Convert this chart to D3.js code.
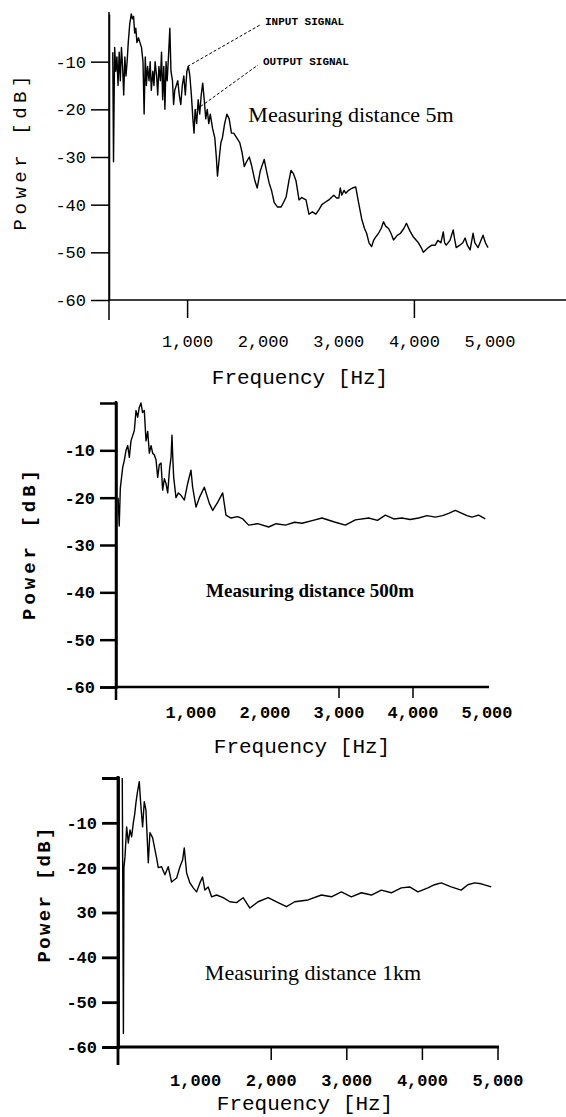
<!DOCTYPE html>
<html>
<head>
<meta charset="utf-8">
<script src="https://cdn.jsdelivr.net/npm/d3@7"></script>
<style>
body { margin: 0; background: #fff; }
svg { display: block; }
</style>
</head>
<body>
<div id="chart"></div>
<script>
// tick values / labels
var dbTicks = [-10, -20, -30, -40, -50, -60];
var dbLabels5m = ["-10", "-20", "-30", "-40", "-50", "-60"];
var dbLabels500m = ["-10", "-20", "-30", "-40", "-50", "-60"];
var dbLabels1km = ["-10", "-20", "30", "-40", "-50", "-60"];
var freqTicks = [1000, 2000, 3000, 4000, 5000];

// spectrum, measuring distance 5m
var freq5m = [10,20,35,50,65,80,95,110,125,140,155,170,185,200,215,235,255,270,285,300,
    315,330,350,370,390,410,425,440,455,470,490,505,520,540,555,570,590,605,620,640,
    655,670,685,700,715,730,750,765,780,800,815,830,850,870,890,910,930,950,970,990,
    1010,1030,1050,1070,1085,1100,1120,1140,1160,1180,1200,1220,1240,1260,1280,1300,1330,1360,1380,1395,
    1420,1440,1460,1490,1520,1550,1580,1610,1650,1690,1720,1750,1780,1816,1850,1890,1921,1960,2013,2045,
    2079,2110,2145,2190,2237,2270,2303,2340,2368,2400,2434,2474,2510,2566,2605,2650,2697,2740,2776,2820,
    2868,2908,2934,2970,3000,3020,3039,3070,3092,3130,3180,3224,3263,3303,3340,3368,3400,3434,3460,3487,
    3526,3560,3592,3620,3658,3690,3724,3770,3816,3860,3895,3940,3987,4053,4090,4118,4150,4184,4230,4276,
    4310,4350,4382,4400,4421,4470,4513,4530,4553,4600,4640,4671,4700,4737,4776,4800,4842,4880,4908,4940,4974];
var power5m = [-8,-31,-7,-12,-9,-15,-8,-14,-7,-11,-17,-9,-13,-10,-6,-2,0,-1,-0.5,-4,
    -3,-6,-5,-6,-7,-10,-21,-9,-15,-11,-14,-10,-16,-12,-15,-10,-13,-17,-11,-14,
    -8,-18,-11,-20,-10,-14,-8,-3,-12,-14,-19,-16,-15,-14,-17,-19,-15,-13,-17,-12,
    -11,-13,-17,-22,-25,-20,-23,-18,-21,-17,-14.5,-18,-22,-20,-23,-21,-24,-26,-30,-34,
    -30,-27,-26,-23,-21,-22,-25,-25,-26,-27,-29,-32,-31,-30,-32,-35,-36.5,-33,-30.5,-33,
    -35.5,-37,-39.5,-40.5,-40.5,-39.5,-38.4,-35,-32.8,-33.5,-35,-39,-38.5,-39,-42,-41.5,-42,-41,-40,-39.5,
    -39,-38.4,-38,-38.6,-38.6,-36.5,-38,-37,-37.6,-37,-36.5,-36.3,-39.7,-43,-45,-46,-48,-48.8,-47.5,-46.8,
    -46,-45,-43.6,-44.5,-45,-46,-47.4,-46.5,-46,-45,-43.9,-45.5,-46.8,-48,-49,-50,-49.5,-49,-48.5,-48.5,
    -47.5,-48,-45.7,-48,-48.5,-47.5,-45.3,-47,-49,-48.5,-48,-47,-48.5,-49.5,-46,-48,-49,-47.5,-46.4,-48,-49];

// spectrum, measuring distance 500m
var freq500m = [15,30,45,77,100,122,145,167,189,210,234,257,280,300,324,345,369,392,415,437,
    460,482,505,527,550,572,595,617,640,662,685,710,730,743,755,766,797,830,865,910,
    955,1000,1022,1068,1113,1180,1248,1293,1360,1428,1473,1540,1630,1700,1779,1900,2050,2150,2275,2400,
    2500,2650,2770,2950,3086,3221,3401,3520,3626,3740,3851,3960,4077,4190,4302,4400,4482,4572,4662,4730,
    4797,4887,4977];
var power500m = [-20,-26,-18,-13.6,-12,-10,-9,-11.5,-8,-7,-5.8,-1.6,-3,-1,0,-2,-1.6,-8,-6,-10.6,
    -9,-10.6,-11,-12,-15.7,-13,-12.7,-18.4,-16,-17,-19,-14,-11.5,-6.8,-12,-15.7,-20,-19,-19.5,-20.5,
    -17,-14.2,-17.8,-22,-20,-17.8,-21.2,-22.7,-21,-19,-23.7,-24.3,-24,-24.5,-25.8,-25.5,-26.2,-25.5,-25.8,-25.2,
    -25.4,-24.8,-24.3,-25.2,-25.8,-24.7,-24.3,-24.8,-23.7,-24.5,-24.3,-24.6,-24.3,-23.8,-24.1,-23.8,-23.3,-22.7,-23.3,-23.8,
    -24.1,-23.7,-24.5];

// spectrum, measuring distance 1km
var freq1km = [30,38,45,52,66,88,110,132,154,176,195,211,229,255,273,299,321,343,361,374,
    396,431,462,484,506,550,594,638,682,749,793,828,850,881,925,969,1013,1057,1092,1123,
    1167,1211,1277,1365,1453,1541,1629,1718,1827,1960,2092,2202,2312,2488,2664,2796,2928,3060,3193,3325,
    3457,3589,3721,3831,3941,4073,4161,4249,4381,4513,4601,4690,4778,4910];
var power1km = [0,-28,-57,-20,-17.6,-10.9,-14.5,-11.6,-13.1,-10,-8,-5.5,-3.3,-0.8,-5.5,-10.9,-5.3,-7.1,-13.8,-18.9,
    -12.2,-13.3,-16,-17.8,-20,-19.8,-21.6,-19.8,-23.2,-22.3,-19.8,-18.3,-15.6,-21.2,-23.4,-24.5,-25.4,-23.4,-22.1,-25,
    -24.3,-26.5,-26.1,-26.7,-27.6,-27.8,-26.7,-29,-27.6,-26.7,-27.8,-28.7,-27.6,-27.2,-26.1,-26.5,-25.4,-26.5,-25.6,-26.1,
    -25,-25.6,-24.5,-24.3,-25.4,-24.5,-23.8,-23.4,-24.3,-25,-23.8,-23.4,-23.6,-24.3];

var svg = d3.select("#chart")
    .append("svg")
    .attr("width", 566)
    .attr("height", 1117);

PowerChart = function(_svg, _freq, _power, _opts){
    this.svg = _svg;
    this.data = _freq.map(function(f, i) { return { f: f, p: _power[i] }; });
    this.opts = _opts;
    this.initVis();
};

PowerChart.prototype.initVis = function(){
    var vis = this, o = vis.opts;

    vis.x = d3.scaleLinear().domain([0, 5000]).range([o.x0, o.x5000]);
    vis.y = d3.scaleLinear().domain([-60, 0]).range([o.yBot, o.yTop]);

    // y axis
    vis.yAxis = vis.svg.append("g")
        .attr("transform", "translate(" + o.axisX + ",0)")
        .call(d3.axisLeft(vis.y)
            .tickValues(dbTicks)
            .tickFormat(function(d, i) { return o.yLabels[i]; })
            .tickSize(o.tickLen)
            .tickSizeOuter(o.outer)
            .tickPadding(5));
    vis.yAxis.selectAll("path, line")
        .attr("stroke", "#000")
        .attr("stroke-width", o.axisW);
    vis.yAxis.selectAll("text")
        .attr("fill", "#000")
        .style("font-family", "'Liberation Mono', 'DejaVu Sans Mono', monospace")
        .style("font-size", "17px")
        .style("font-weight", o.bold ? "bold" : "normal");

    // y axis runs on below the x axis
    vis.svg.append("line")
        .attr("x1", o.axisX).attr("x2", o.axisX)
        .attr("y1", o.yTop - 2).attr("y2", o.yExt)
        .attr("stroke", "#000")
        .attr("stroke-width", o.axisW);

    // x axis
    vis.svg.append("line")
        .attr("x1", o.axisX).attr("x2", o.xEnd)
        .attr("y1", vis.y(-60)).attr("y2", vis.y(-60))
        .attr("stroke", "#000")
        .attr("stroke-width", o.axisW);

    vis.svg.selectAll(null)
        .data(o.marks)
        .enter().append("line")
        .attr("x1", function(d) { return vis.x(d); })
        .attr("x2", function(d) { return vis.x(d); })
        .attr("y1", vis.y(-60))
        .attr("y2", vis.y(-60) + o.markLen)
        .attr("stroke", "#000")
        .attr("stroke-width", 1.5);

    vis.svg.selectAll(null)
        .data(freqTicks)
        .enter().append("text")
        .attr("x", function(d) { return vis.x(d); })
        .attr("y", o.labelY)
        .attr("text-anchor", "middle")
        .attr("dominant-baseline", "middle")
        .style("font-family", "'Liberation Mono', 'DejaVu Sans Mono', monospace")
        .style("font-size", "17px")
        .style("font-weight", o.bold ? "bold" : "normal")
        .text(d3.format(","));

    vis.svg.append("text")
        .attr("x", o.xTitleX)
        .attr("y", o.xTitleY)
        .attr("text-anchor", "middle")
        .attr("dominant-baseline", "middle")
        .style("font-family", "'Liberation Mono', 'DejaVu Sans Mono', monospace")
        .style("font-size", "21px")
        .text("Frequency [Hz]");

    vis.svg.append("text")
        .attr("transform", "translate(" + o.yTitleX + "," + o.yTitleY + ") rotate(-90)")
        .attr("text-anchor", "middle")
        .attr("dominant-baseline", "middle")
        .attr("textLength", o.yTitleLen)
        .style("font-family", "'Liberation Mono', 'DejaVu Sans Mono', monospace")
        .style("font-size", "19px")
        .style("font-weight", o.bold ? "bold" : "normal")
        .text("Power [dB]");

    vis.svg.append("text")
        .attr("x", o.nameX)
        .attr("y", o.nameY)
        .attr("text-anchor", "middle")
        .attr("dominant-baseline", "middle")
        .style("font-family", "'Liberation Serif', 'DejaVu Serif', serif")
        .style("font-size", o.nameSize + "px")
        .style("font-weight", o.nameBold ? "bold" : "normal")
        .text(o.name);

    var line = d3.line()
        .x(function(d) { return vis.x(d.f); })
        .y(function(d) { return vis.y(d.p); });

    vis.svg.append("path")
        .attr("fill", "none")
        .attr("stroke", "#000")
        .attr("stroke-width", 1.4)
        .attr("stroke-linejoin", "round")
        .attr("d", line(vis.data));
};

var chart5m = new PowerChart(svg, freq5m, power5m, {
    x0: 112, x5000: 490, yTop: 14, yBot: 300, axisX: 109, yExt: 320, xEnd: 566,
    tickLen: 18, outer: 0, axisW: 1.5, yLabels: dbLabels5m, bold: false,
    marks: [1000, 4000], markLen: 18, labelY: 343,
    xTitleX: 300, xTitleY: 378, yTitleX: 21, yTitleY: 153, yTitleLen: 155,
    name: "Measuring distance 5m", nameX: 351, nameY: 117, nameSize: 22, nameBold: false
});

var chart500m = new PowerChart(svg, freq500m, power500m, {
    x0: 117, x5000: 487, yTop: 403, yBot: 687, axisX: 116, yExt: 700, xEnd: 489,
    tickLen: 16, outer: 16, axisW: 2.5, yLabels: dbLabels500m, bold: true,
    marks: [3000, 4000], markLen: 11, labelY: 714,
    xTitleX: 302, xTitleY: 747, yTitleX: 30, yTitleY: 545, yTitleLen: 150,
    name: "Measuring distance 500m", nameX: 310, nameY: 593, nameSize: 19, nameBold: true
});

var chart1km = new PowerChart(svg, freq1km, power1km, {
    x0: 120, x5000: 498, yTop: 778, yBot: 1047, axisX: 118, yExt: 1065, xEnd: 499,
    tickLen: 16, outer: 16, axisW: 2.8, yLabels: dbLabels1km, bold: true,
    marks: [2000, 3000, 4000, 5000], markLen: 13, labelY: 1082,
    xTitleX: 305, xTitleY: 1104, yTitleX: 45, yTitleY: 895, yTitleLen: 135,
    name: "Measuring distance 1km", nameX: 313, nameY: 975, nameSize: 22, nameBold: false
});

// signal callouts on the 5m panel
var callouts = [
    { label: "INPUT SIGNAL", f: 1000, p: -11, tx: 262, ty: 22 },
    { label: "OUTPUT SIGNAL", f: 1120, p: -20, tx: 260, ty: 62 }
];
callouts.forEach(function(c) {
    svg.append("line")
        .attr("x1", chart5m.x(c.f)).attr("y1", chart5m.y(c.p))
        .attr("x2", c.tx - 2).attr("y2", c.ty + 3)
        .attr("stroke", "#000")
        .attr("stroke-width", 1)
        .attr("stroke-dasharray", "3,2");
    svg.append("text")
        .attr("x", c.tx + 3)
        .attr("y", c.ty)
        .attr("dominant-baseline", "middle")
        .style("font-family", "'Liberation Mono', 'DejaVu Sans Mono', monospace")
        .style("font-size", "11px")
        .style("font-weight", "bold")
        .text(c.label);
});
</script>
</body>
</html>
